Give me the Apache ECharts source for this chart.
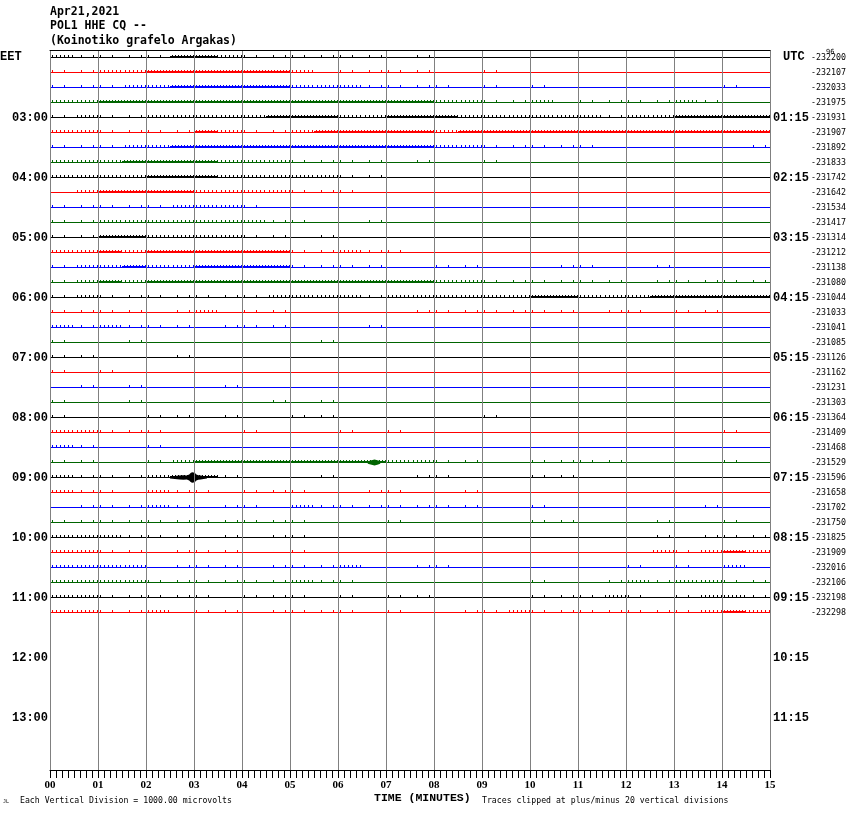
<!DOCTYPE html>
<html><head><meta charset="utf-8">
<script src="https://cdn.jsdelivr.net/npm/echarts@6/dist/echarts.min.js"></script>
<style>html,body{margin:0;padding:0;background:#fff}#c{width:850px;height:814px}</style>
</head><body><div id="c"></div>
<script>
// ---------------- data ----------------
const titleLines = ['Apr21,2021', 'POL1 HHE CQ --', '(Koinotiko grafelo Argakas)'];
const xTickLabels = ['00','01','02','03','04','05','06','07','08','09','10','11','12','13','14','15'];
const rowCount = 48;               // 15-minute rows from 02:00 to 13:45 EET
const hourEvery = 4;               // rows per hour
const eetHourLabels = ['03:00','04:00','05:00','06:00','07:00','08:00','09:00','10:00','11:00','12:00','13:00'];
const utcHourLabels = ['01:15','02:15','03:15','04:15','05:15','06:15','07:15','08:15','09:15','10:15','11:15'];
const rowMeans = ['-232200','-232107','-232033','-231975','-231931','-231907','-231892','-231833',
  '-231742','-231642','-231534','-231417','-231314','-231212','-231138','-231080',
  '-231044','-231033','-231041','-231085','-231126','-231162','-231231','-231303',
  '-231364','-231409','-231468','-231529','-231596','-231658','-231702','-231750',
  '-231825','-231909','-232016','-232106','-232198','-232298'];
const traceColors = ['#000000', '#ff0000', '#0000ff', '#006400'];
const segMinutes = 0.5;
// activity level per half-minute (0 quiet .. 3 dense), one string per traced row
const activity = [
  '2111133211111101' + '00000000000000',
  '1122333333201111' + '00100000000000',
  '1112233333222111' + '10101000000010',
  '2233333333333333' + '22112011112100',
  '1211222223332233' + '32222221223333',
  '2211113211233333' + '23333333333333',
  '1112233333333333' + '22111110000001',
  '2223333222111101' + '00100000000000',
  '2222333222221100' + '00000000000000',
  '0233332222111000' + '00000000000000',
  '1111122210000000' + '00000000000000',
  '1122222221100100' + '00000000000000',
  '1133222211010000' + '00000000000000',
  '2232333333112110' + '00000000000000',
  '1223223333111100' + '11000110010000',
  '1232333333333333' + '22111111011111',
  '1211111112222122' + '22223322233333',
  '1111012011000001' + '11111101101100',
  '2121110111000100' + '00000000000000',
  '1001000000010000' + '00000000000000',
  '1100010000000000' + '00000000000000',
  '1010000000000000' + '00000000000000',
  '0101000100000000' + '00000000000000',
  '1001000001010000' + '00000000000000',
  '1000110100110000' + '00100000000000',
  '2211100010001010' + '00000000000010',
  '2100100000000000' + '00000000000000',
  '1100123333333322' + '11001111000010',
  '2111233100010001' + '10001100000000',
  '2110211011100110' + '01000000000000',
  '0111210110211111' + '11001000000100',
  '1111111111100010' + '00001100010010',
  '2221110101100000' + '00000000010111',
  '2211011100100000' + '00000000021232',
  '2222011101112001' + '10000000101020',
  '2222111111211000' + '00001001212211',
  '2211111011101011' + '00001112101221',
  '2211201101111010' + '01121111111232'
];
// larger signals (earthquake on 09:00 row, bump on 08:45 row); amplitude as fraction of row spacing
const eventRows = [28, 27];
const eventMinutes = [
  [2.50, 2.60, 2.70, 2.78, 2.85, 2.90, 2.93, 2.96, 2.99, 3.02, 3.05, 3.09, 3.14, 3.20, 3.27],
  [6.62, 6.70, 6.76, 6.82, 6.88]
];
const eventAmps = [
  [0.07, 0.10, 0.13, 0.15, 0.13, 0.20, 0.30, 0.35, 0.33, 0.30, 0.20, 0.15, 0.13, 0.10, 0.07],
  [0.08, 0.15, 0.20, 0.15, 0.08]
];

// ---------------- build ----------------
const leftLabels = [], rightLabels = [], meanLabels = [];
for (let r = 0; r < rowCount; r++) {
  const h = r / hourEvery - 1;
  leftLabels.push(r % hourEvery === 0 && h >= 0 && h < eetHourLabels.length ? eetHourLabels[h] : '');
  rightLabels.push(r % hourEvery === 0 && h >= 0 && h < utcHourLabels.length ? utcHourLabels[h] : '');
  meanLabels.push(r < rowMeans.length ? rowMeans[r] : '');
}
const baseData = activity.map((s, r) => [0, r]);
const actData = [];
activity.forEach((s, r) => {
  for (let k = 0; k < s.length; k++) {
    const lv = +s[k];
    if (lv > 0) actData.push([k * segMinutes, r, lv, k]);
  }
});
const evData = eventRows.map((r, i) => [eventMinutes[i][0], r, i]);

const chart = echarts.init(document.getElementById('c'), null, {renderer: 'canvas'});
const hourFont = {fontFamily: 'Liberation Mono', fontWeight: 'bold', fontSize: 12, color: '#000'};
// drawing style of the spike texture for each activity level
const tickStyle = {
  1: {step: 12, w: 1, top: 2.5, h: 3, band: 0},
  2: {step: 4, w: 1, top: 2.5, h: 3, band: 0},
  3: {step: 3, w: 1, top: 2.5, h: 3, band: 2}
};

chart.setOption({
  animation: false,
  backgroundColor: '#fff',
  grid: {left: 50, right: 80, top: 50, bottom: 44, containLabel: false},
  xAxis: [{
    type: 'value', min: 0, max: 15, interval: 1, z: 5,
    axisLine: {show: true, lineStyle: {color: '#000', width: 1}},
    axisTick: {show: true, length: 8, lineStyle: {color: '#000'}},
    minorTick: {show: true, splitNumber: 8, length: 8, lineStyle: {color: '#000'}},
    splitLine: {show: true, lineStyle: {color: '#808080', width: 1}},
    axisLabel: {margin: 10, fontFamily: 'Liberation Serif', fontWeight: 'bold', fontSize: 11, color: '#000',
      formatter: v => xTickLabels[Math.round(v)]}
  }, {
    type: 'value', min: 0, max: 15, position: 'top', z: 5,
    axisLine: {show: true, lineStyle: {color: '#000', width: 1}},
    axisTick: {show: false}, axisLabel: {show: false}, splitLine: {show: false}
  }],
  yAxis: [{
    type: 'category', data: leftLabels, inverse: true, position: 'left',
    axisLine: {show: false}, axisTick: {show: false}, splitLine: {show: false},
    axisLabel: Object.assign({interval: 0, margin: 2}, hourFont)
  }, {
    type: 'category', data: rightLabels, inverse: true, position: 'right',
    axisLine: {show: false}, axisTick: {show: false}, splitLine: {show: false},
    axisLabel: Object.assign({interval: 0, margin: 3, align: 'left'}, hourFont)
  }, {
    type: 'category', data: meanLabels, inverse: true, position: 'right',
    axisLine: {show: false}, axisTick: {show: false}, splitLine: {show: false},
    axisLabel: {interval: 0, margin: 41, align: 'left', fontFamily: 'DejaVu Sans Mono', fontSize: 8.3, color: '#000'}
  }],
  series: [{
    type: 'custom', name: 'baseline', yAxisIndex: 0, data: baseData, encode: {x: 0, y: 1}, z: 2,
    renderItem: (params, api) => {
      const r = api.value(1);
      const p0 = api.coord([0, r]), p1 = api.coord([15, r]);
      return {type: 'line', shape: {x1: p0[0], y1: p0[1], x2: p1[0], y2: p1[1]},
        style: {stroke: traceColors[r % 4], lineWidth: 1}};
    }
  }, {
    type: 'custom', name: 'activity', yAxisIndex: 0, data: actData, encode: {x: 0, y: 1}, z: 3,
    renderItem: (params, api) => {
      const start = api.value(0), r = api.value(1), lv = api.value(2), k = api.value(3);
      const p0 = api.coord([start, r]), p1 = api.coord([start + segMinutes, r]);
      const color = traceColors[r % 4];
      const x0 = Math.round(p0[0]), x1 = Math.round(p1[0]), y = p0[1];
      const ts = tickStyle[lv];
      const off = (k % 2) ? Math.floor(ts.step / 2) + 1 : 2;
      const children = [];
      if (ts.band) children.push({type: 'rect', shape: {x: x0, y: y - 1.5, width: x1 - x0, height: ts.band}, style: {fill: color}});
      for (let x = x0 + off; x < x1; x += ts.step)
        children.push({type: 'rect', shape: {x: x, y: y - ts.top, width: ts.w, height: ts.h}, style: {fill: color}});
      return {type: 'group', children: children};
    }
  }, {
    type: 'custom', name: 'events', yAxisIndex: 0, data: evData, encode: {x: 0, y: 1}, z: 4,
    renderItem: (params, api) => {
      const r = api.value(1), i = api.value(2);
      const bandH = api.size([0, 1])[1];
      const top = [], bot = [];
      eventMinutes[i].forEach((m, j) => {
        const p = api.coord([m, r]);
        top.push([p[0], p[1] - eventAmps[i][j] * bandH]);
        bot.unshift([p[0], p[1] + eventAmps[i][j] * bandH]);
      });
      return {type: 'polygon', shape: {points: top.concat(bot)}, style: {fill: traceColors[r % 4]}};
    }
  }],
  graphic: [
    {type: 'text', x: 50, y: 12.5, style: {text: titleLines[0], font: 'bold 11.5px "DejaVu Sans Mono"', fill: '#000', textVerticalAlign: 'middle', verticalAlign: 'middle'}},
    {type: 'text', x: 50, y: 26.5, style: {text: titleLines[1], font: 'bold 11.5px "DejaVu Sans Mono"', fill: '#000', textVerticalAlign: 'middle', verticalAlign: 'middle'}},
    {type: 'text', x: 50, y: 41.5, style: {text: titleLines[2], font: 'bold 11.5px "DejaVu Sans Mono"', fill: '#000', textVerticalAlign: 'middle', verticalAlign: 'middle'}},
    {type: 'text', x: 0, y: 56.5, style: {text: 'EET', font: 'bold 12px "Liberation Mono"', fill: '#000', textVerticalAlign: 'middle', verticalAlign: 'middle'}},
    {type: 'text', x: 783, y: 56.5, style: {text: 'UTC', font: 'bold 12px "Liberation Mono"', fill: '#000', textVerticalAlign: 'middle', verticalAlign: 'middle'}},
    {type: 'text', x: 826, y: 52, style: {text: '96', font: '7px "DejaVu Sans Mono"', fill: '#000', textVerticalAlign: 'middle', verticalAlign: 'middle'}},
    {type: 'text', x: 374, y: 798.5, style: {text: 'TIME (MINUTES)', font: 'bold 11.5px "Liberation Mono"', fill: '#000', textVerticalAlign: 'middle', verticalAlign: 'middle'}},
    {type: 'text', x: 20, y: 801, style: {text: 'Each Vertical Division = 1000.00 microvolts', font: '8.2px "DejaVu Sans Mono"', fill: '#000', textVerticalAlign: 'middle', verticalAlign: 'middle'}},
    {type: 'text', x: 482, y: 800.5, style: {text: 'Traces clipped at plus/minus 20 vertical divisions', font: '8.2px "DejaVu Sans Mono"', fill: '#000', textVerticalAlign: 'middle', verticalAlign: 'middle'}},
    {type: 'text', x: 3, y: 802, style: {text: 'JL', font: '5px "DejaVu Sans Mono"', fill: '#000', textVerticalAlign: 'middle', verticalAlign: 'middle'}}
  ]
});
</script></body></html>
